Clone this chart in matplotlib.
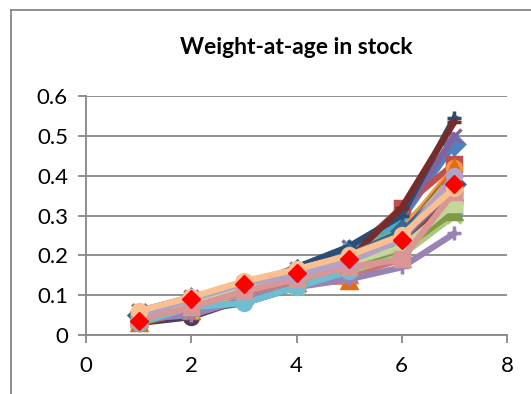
import matplotlib
matplotlib.use("Agg")
import matplotlib.pyplot as plt
from matplotlib.lines import Line2D

plt.rcParams['font.family'] = ['Lato', 'DejaVu Sans']

# Ages on the x axis
ages = [1, 2, 3, 4, 5, 6, 7]

# Weight-at-age per year (one list per series)
w01 = [0.050, 0.090, 0.120, 0.160, 0.210, 0.290, 0.480]
w02 = [0.040, 0.070, 0.110, 0.140, 0.200, 0.320, 0.430]
w03 = [0.050, 0.080, 0.120, 0.150, 0.200, 0.270, 0.400]
w04 = [0.060, 0.095, 0.120, 0.165, 0.222, 0.300, 0.500]
w05 = [0.040, 0.070, 0.100, 0.150, 0.220, 0.280, 0.340]
w06 = [0.030, 0.060, 0.100, 0.140, 0.170, 0.260, 0.420]
w07 = [0.050, 0.090, 0.120, 0.170, 0.222, 0.300, 0.545]
w08 = [0.040, 0.080, 0.110, 0.150, 0.190, 0.320, 0.535]
w09 = [0.040, 0.070, 0.110, 0.140, 0.180, 0.250, 0.410]
w10 = [0.030, 0.045, 0.090, 0.130, 0.170, 0.220, 0.360]
w11 = [0.040, 0.060, 0.080, 0.120, 0.160, 0.210, 0.330]
w12 = [0.030, 0.060, 0.100, 0.130, 0.135, 0.210, 0.420]
w13 = [0.040, 0.070, 0.100, 0.130, 0.160, 0.200, 0.320]
w14 = [0.050, 0.070, 0.100, 0.130, 0.150, 0.190, 0.360]
w15 = [0.060, 0.060, 0.090, 0.120, 0.160, 0.200, 0.300]
w16 = [0.040, 0.050, 0.090, 0.120, 0.140, 0.170, 0.255]
w17 = [0.030, 0.070, 0.080, 0.120, 0.160, 0.220, 0.340]
w18 = [0.040, 0.080, 0.135, 0.150, 0.190, 0.250, 0.400]
w19 = [0.050, 0.085, 0.125, 0.160, 0.200, 0.260, 0.380]
w20 = [0.040, 0.075, 0.115, 0.145, 0.180, 0.230, 0.350]
w21 = [0.050, 0.080, 0.120, 0.150, 0.175, 0.215, 0.310]
w22 = [0.060, 0.090, 0.130, 0.160, 0.190, 0.240, 0.370]
w23 = [0.040, 0.080, 0.120, 0.145, 0.180, 0.220, 0.330]
w24 = [0.040, 0.070, 0.110, 0.140, 0.170, 0.190, 0.360]
w25 = [0.050, 0.090, 0.130, 0.150, 0.185, 0.240, 0.400]
w26 = [0.060, 0.095, 0.135, 0.165, 0.200, 0.250, 0.370]

years = [w01, w02, w03, w04, w05, w06, w07, w08, w09, w10, w11, w12, w13,
         w14, w15, w16, w17, w18, w19, w20, w21, w22, w23, w24, w25, w26]

# Mean over years
mean_w = [0.035, 0.090, 0.127, 0.156, 0.190, 0.238, 0.380]

# Excel 2007 style series colours and markers
colors = ['#4F81BD', '#C0504D', '#9BBB59', '#8064A2', '#4BACC6', '#F79646',
          '#2C4D75', '#772C2A', '#5F7530', '#4D3B62', '#276A7C', '#E46C0A',
          '#729ACA', '#CD7371', '#AFC97A', '#9983B5', '#6FBDD1', '#F9AB6B',
          '#3A6594', '#9C3B38', '#7D9A47', '#8064A2', '#C3D69B', '#D99694',
          '#B3A2C7', '#FAC090']
markers = ['D', 's', '^', 'x', (6, 2, 0), 'o', '+', '_', '_', 'o',
           '+', '^', 's', '^', 'x', '+', 'o', '+', 'D', 's',
           '^', 'x', 's', 's', 'o', 'o']

fig = plt.figure(figsize=(5.31, 3.94), dpi=100)
ax = fig.add_axes([86 / 531, 1 - 335 / 394, (507 - 86) / 531, (335 - 96) / 394])

for i, w in enumerate(years):
    ax.plot(ages, w, color=colors[i], lw=4.5, marker=markers[i], ms=10,
            mew=2.5, solid_joinstyle='round', zorder=2 + i * 0.01)

ax.plot(ages, mean_w, ls='none', marker='D', ms=9, color='#FF0000', zorder=5)

ax.set_xlim(0, 8)
ax.set_ylim(0, 0.6)
ax.set_xticks([0, 2, 4, 6, 8])
ax.set_yticks([0, 0.1, 0.2, 0.3, 0.4, 0.5, 0.6])
ax.set_yticklabels(['0', '0.1', '0.2', '0.3', '0.4', '0.5', '0.6'])

grey = '#878787'
ax.grid(axis='y', color=grey, lw=1.3)
ax.set_axisbelow(True)
for side in ['top', 'right']:
    ax.spines[side].set_visible(False)
for side in ['left', 'bottom']:
    ax.spines[side].set_color(grey)
    ax.spines[side].set_linewidth(1.3)
ax.tick_params(axis='both', direction='out', length=6, width=1.3, color=grey,
               labelsize=16, labelcolor='black')
ax.tick_params(axis='x', pad=9)
ax.tick_params(axis='y', pad=7)

fig.text(296 / 531, 1 - 47 / 394, 'Weight-at-age in stock', ha='center',
         va='center', fontsize=16.5, fontweight='bold')

# outer chart frame (only left and top edges are visible)
fig.add_artist(Line2D([11 / 531, 11 / 531], [0, 1 - 10 / 394],
                      transform=fig.transFigure, color=grey, lw=1.3))
fig.add_artist(Line2D([11 / 531, 1], [1 - 10 / 394, 1 - 10 / 394],
                      transform=fig.transFigure, color=grey, lw=1.3))

fig.savefig('out.png', dpi=100)
